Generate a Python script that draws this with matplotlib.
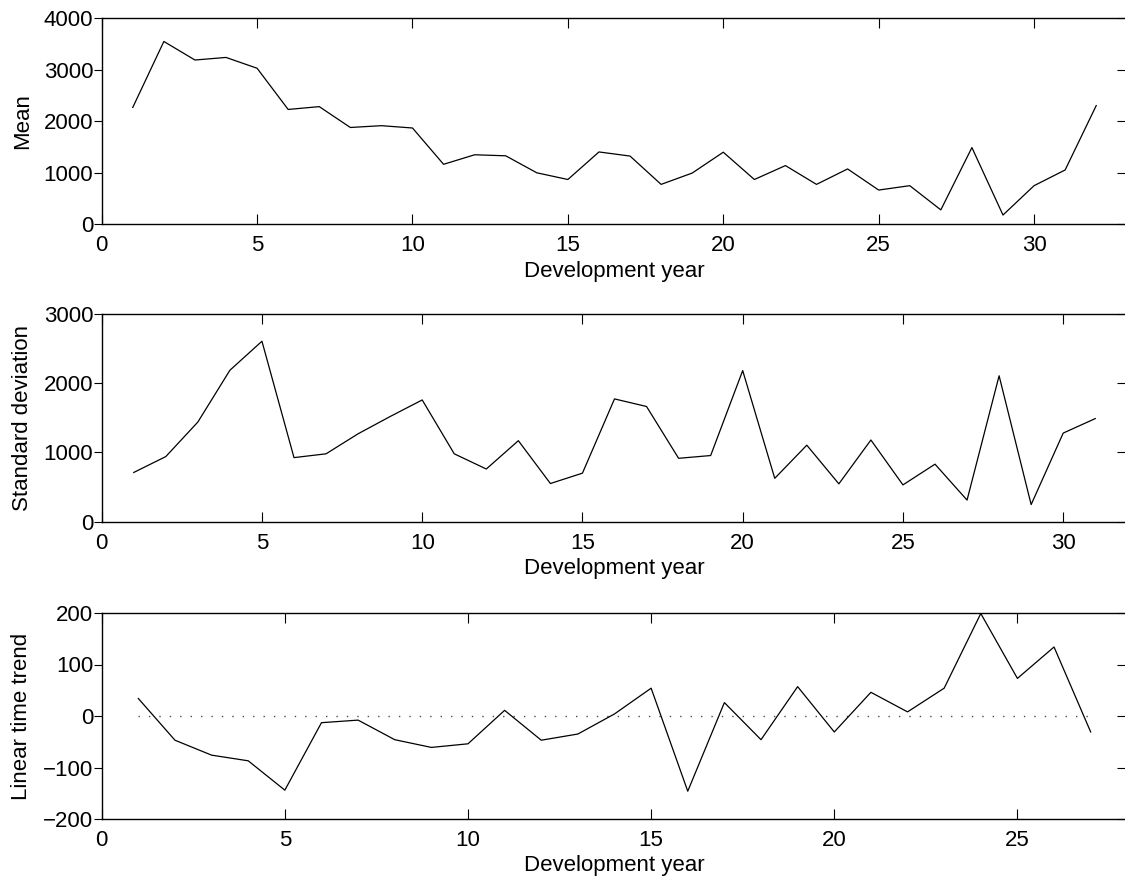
import matplotlib
matplotlib.use('Agg')
import matplotlib.pyplot as plt

plt.rcParams['font.family'] = ['Liberation Sans', 'DejaVu Sans']
plt.rcParams['font.size'] = 16

# development years
years_mean = list(range(1, 33))
years_std = list(range(1, 32))
years_trend = list(range(1, 28))

# values
mean_vals = [2270, 3550, 3190, 3240, 3030, 2230, 2285, 1880, 1915, 1870,
             1165, 1350, 1330, 1000, 870, 1405, 1325, 775, 995, 1400,
             870, 1140, 775, 1075, 665, 750, 280, 1490, 180, 750,
             1055, 2305]
std_vals = [710, 940, 1440, 2190, 2610, 925, 980, 1270, 1520, 1760,
            980, 760, 1170, 550, 700, 1775, 1665, 915, 955, 2185,
            625, 1105, 545, 1180, 530, 830, 310, 2110, 245, 1280,
            1490]
trend_vals = [34, -47, -76, -87, -144, -13, -8, -46, -61, -54,
              11, -47, -35, 4, 54, -146, 26, -46, 57, -31,
              46, 8, 54, 199, 73, 134, -31]

W, H = 1125, 882
fig = plt.figure(figsize=(W / 100, H / 100), dpi=100)


def make_ax(top, bottom):
    # pixel box -> figure fraction
    left, right = 101.7, 1127.3
    return fig.add_axes([left / W, 1 - bottom / H,
                         (right - left) / W, (bottom - top) / H])


def style(ax, xmax, ylim, yticks, ylabel):
    ax.set_xlim(0, xmax)
    ax.set_ylim(*ylim)
    ax.set_xticks(range(0, xmax, 5))
    ax.set_yticks(yticks)
    ax.tick_params(axis='x', direction='in', top=True, length=7, width=0.8, pad=8)
    ax.tick_params(axis='y', direction='out', length=5.5, width=0.8, pad=0.5)
    for s in ax.spines.values():
        s.set_linewidth(1.0)
    ax.set_xlabel('Development year', labelpad=3)
    ax.set_ylabel(ylabel, labelpad=8)
    # right side ticks point inward
    ax2 = ax.twinx()
    ax2.set_ylim(*ylim)
    ax2.set_yticks(yticks)
    ax2.tick_params(axis='y', direction='in', length=7, width=0.8, labelright=False)
    for s in ax2.spines.values():
        s.set_visible(False)


ax1 = make_ax(18.3, 224.3)
ax1.plot(years_mean, mean_vals, color='black', lw=0.9)
style(ax1, 33, (0, 4000), range(0, 4001, 1000), 'Mean')

ax2 = make_ax(314.3, 521.5)
ax2.plot(years_std, std_vals, color='black', lw=0.9)
style(ax2, 32, (0, 3000), range(0, 3001, 1000), 'Standard deviation')

ax3 = make_ax(613.0, 819.0)
ax3.plot([years_trend[0], years_trend[-1]], [0, 0], color='0.3', lw=1.0,
         linestyle=(0, (1, 6.5)))
ax3.plot(years_trend, trend_vals, color='black', lw=0.9)
style(ax3, 28, (-200, 200), range(-200, 201, 100), 'Linear time trend')

fig.savefig('out.png', dpi=100)
